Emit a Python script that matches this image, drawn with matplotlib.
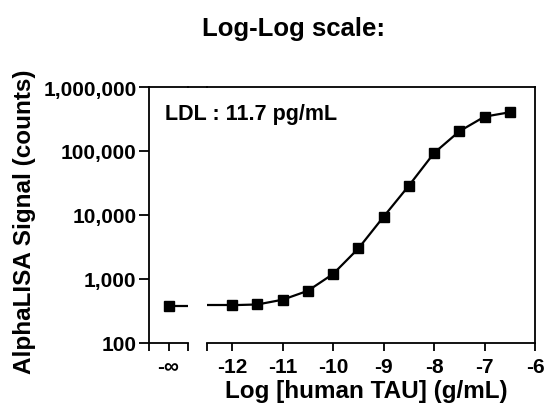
import matplotlib
matplotlib.use('Agg')
import matplotlib.pyplot as plt
from matplotlib.lines import Line2D

plt.rcParams['font.family'] = ['Liberation Sans', 'DejaVu Sans']
plt.rcParams['font.weight'] = 'bold'

# data
conc_log = [-12, -11.5, -11, -10.5, -10, -9.5, -9, -8.5, -8, -7.5, -7, -6.5]
signal = [390, 400, 475, 655, 1200, 3000, 9400, 28700, 93000, 203000, 344000, 403000]
blank_signal = 380

x_ticks = [-12.5, -12, -11, -10, -9, -8, -7, -6]
x_tick_labels = ['', '-12', '-11', '-10', '-9', '-8', '-7', '-6']
y_ticks = [100, 1000, 10000, 100000, 1000000]
y_tick_labels = ['100', '1,000', '10,000', '100,000', '1,000,000']

W, H = 546, 410
fig = plt.figure(figsize=(W / 100, H / 100), dpi=100)

top, bottom = 88, 344
def box(x0, x1):
    return [x0 / W, 1 - bottom / H, (x1 - x0) / W, (bottom - top) / H]

ax_blank = fig.add_axes(box(149, 188))
ax = fig.add_axes(box(207, 535), sharey=ax_blank)

lw = 1.3
for a in (ax_blank, ax):
    for s in a.spines.values():
        s.set_linewidth(lw)
    a.set_yscale('log')
    a.set_ylim(100, 1000000)
    a.tick_params(width=lw, length=6, direction='out', labelsize=15, pad=4)

ax_blank.spines['right'].set_visible(False)
ax.spines['left'].set_visible(False)

# blank (-inf) point
ax_blank.set_xlim(-1, 1)
ax_blank.plot([0], [blank_signal], 's', color='black', markersize=7.5)
ax_blank.hlines(blank_signal, 0, 1, color='black', linewidth=1.6)
ax_blank.set_xticks([-1, 0, 1])
ax_blank.set_xticklabels(['', '-\u221e', ''])
ax_blank.set_yticks(y_ticks)
ax_blank.set_yticklabels(y_tick_labels)
ax_blank.yaxis.set_minor_locator(matplotlib.ticker.NullLocator())
ax_blank.tick_params(axis='y', length=7, pad=2)

# standard curve
ax.set_xlim(-12.5, -6)
ax.plot(conc_log, signal, '-s', color='black', markersize=7.5, linewidth=1.6, clip_on=False)
ax.hlines(signal[0], -12.5, conc_log[0], color='black', linewidth=1.6)
ax.set_xticks(x_ticks)
ax.set_xticklabels(x_tick_labels)
ax.tick_params(axis='y', left=False, labelleft=False, which='both')

# top line across the break
fig.add_artist(Line2D([188 / W, 207 / W], [1 - top / H, 1 - top / H],
                      color='black', linewidth=lw, transform=fig.transFigure))

fig.text(293 / W, 1 - 36 / H, 'Log-Log scale:', ha='center', va='baseline',
         fontsize=18.5, fontweight='bold')
fig.text(165 / W, 1 - 120 / H, 'LDL : 11.7 pg/mL', ha='left', va='baseline',
         fontsize=15.5, fontweight='bold')
fig.text(366 / W, 1 - 398 / H, 'Log [human TAU] (g/mL)', ha='center', va='baseline',
         fontsize=17.5, fontweight='bold')
fig.text(25 / W, 1 - 222 / H, 'AlphaLISA Signal (counts)', ha='center', va='center',
         rotation=90, fontsize=17.5, fontweight='bold')

fig.savefig('out.png', dpi=100)
